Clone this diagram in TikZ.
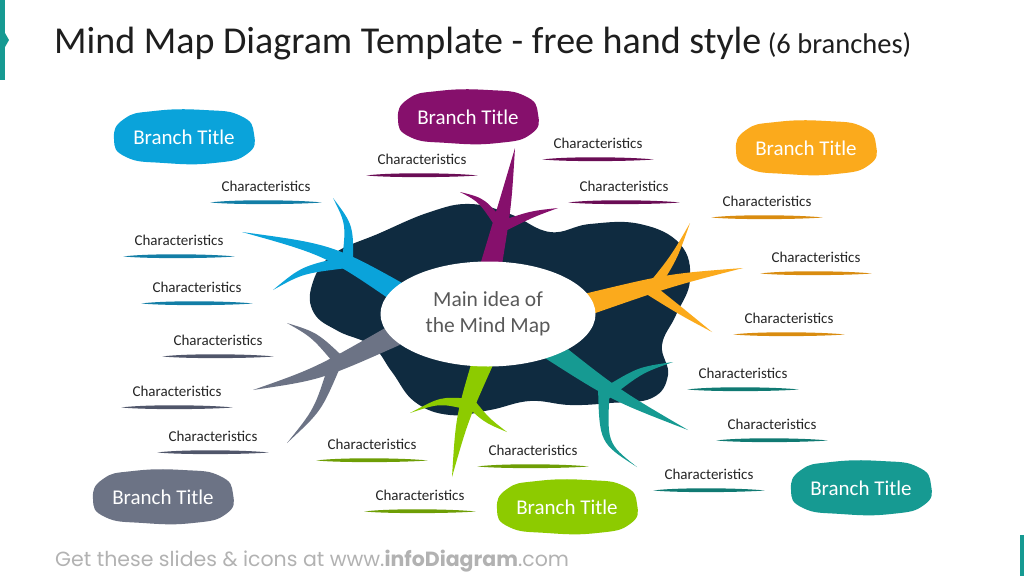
\documentclass[tikz,border=0pt]{standalone}
\usepackage{fontspec}
\setmainfont{Carlito}
\newfontfamily\footfont{Poppins}
\usetikzlibrary{calc,positioning,shapes.geometric}
\definecolor{mapNavy}{RGB}{15,43,64}
\definecolor{mapBlue}{RGB}{10,163,218}
\definecolor{mapBlueDark}{RGB}{19,126,166}
\definecolor{mapPurple}{RGB}{134,16,108}
\definecolor{mapPurpleDark}{RGB}{106,13,85}
\definecolor{mapOrange}{RGB}{251,170,28}
\definecolor{mapOrangeDark}{RGB}{217,140,16}
\definecolor{mapTeal}{RGB}{22,154,146}
\definecolor{mapTealDark}{RGB}{16,122,115}
\definecolor{mapGreen}{RGB}{141,203,0}
\definecolor{mapGreenDark}{RGB}{110,158,5}
\definecolor{mapSlate}{RGB}{108,115,133}
\definecolor{mapSlateDark}{RGB}{80,86,106}
\definecolor{inkGray}{RGB}{38,38,38}
\definecolor{headGray}{RGB}{30,30,30}
\definecolor{midGray}{RGB}{89,89,89}
\definecolor{footGray}{RGB}{178,178,178}
\definecolor{markGray}{RGB}{234,240,246}

% tapered limb: colour, base, control, tip, half width
\newcommand{\twig}[5]{\fill[#1] ($(#2)!#5!90:(#3)$) .. controls ($(#3)!0.6*#5!-90:(#2)$) .. (#4) .. controls ($(#3)!0.6*#5!90:(#2)$) .. ($(#2)!#5!-90:(#3)$) -- cycle;}
% brush stroke under a label node
\newcommand{\brushline}[2]{\fill[#2] (#1.south west) .. controls +(25,-3.2) and +(-25,-2.6) .. (#1.south east) .. controls +(-25,2) and +(25,2.4) .. (#1.south west) -- cycle;}
% title blob and its text
\newcommand{\titleblob}[3]{\fill[#3, shift={(#2)}] plot[smooth cycle, tension=0.85] coordinates {(-70,2) (-60,-18) (-30,-26) (20,-27) (57,-21) (70,-3) (63,17) (30,26) (-20,26) (-58,20)};
  \node[titletext] (#1) at (#2) {Branch Title};}

\begin{document}
\begin{tikzpicture}[x=1pt, y=-1pt,
  charlabel/.style={font=\fontsize{15}{17}\selectfont, text=inkGray, inner xsep=11pt, inner ysep=11pt},
  titletext/.style={font=\fontsize{21}{24}\selectfont, text=white}]
\useasboundingbox (0,0) rectangle (1024,576);
\fill[white] (0,0) rectangle (1024,576);

% side accents
\fill[mapTeal] (0,0) rectangle (5,80);
\fill[mapTeal] (5,33) -- (9,40) -- (5,47) -- cycle;
\fill[mapTeal] (1020,535) rectangle (1024,576);

% heading and footer
\node[anchor=base west, inner sep=0pt, text=headGray] (title) at (54,53) {\fontsize{38}{42}\selectfont Mind Map Diagram Template - free hand style\fontsize{28.5}{32}\selectfont\ (6 branches)};
\node[anchor=base west, inner sep=0pt, text=footGray] (footer) at (55,566) {\footfont\fontsize{20.5}{24}\selectfont Get these slides \& icons at www.\textbf{infoDiagram}.com};

% dark cloud behind the main idea
\fill[mapNavy] plot[smooth cycle, tension=0.7] coordinates {(312,285) (332,255) (380,233) (430,212) (470,204) (510,214) (550,232) (590,224) (640,224) (680,244) (690,280) (676,315) (662,345) (668,375) (652,398) (610,403) (570,405) (530,401) (490,410) (450,415) (415,402) (392,372) (372,346) (338,331) (314,313)};

% blue branch
\twig{mapBlue}{410,300}{330,250}{242,232}{11pt}
\twig{mapBlue}{347,268}{350,225}{333,198}{6pt}
\twig{mapBlue}{347,262}{302,270}{273,290}{6pt}
% purple branch
\twig{mapPurple}{490,270}{505,205}{515,148}{11pt}
\twig{mapPurple}{504,230}{482,200}{460,192}{5.5pt}
\twig{mapPurple}{503,226}{532,214}{558,208}{5.5pt}
% orange branch
\twig{mapOrange}{585,305}{670,280}{743,268}{11pt}
\twig{mapOrange}{648,294}{674,258}{690,223}{6pt}
\twig{mapOrange}{648,288}{682,312}{712,332}{6pt}
% teal branch
\twig{mapTeal}{545,345}{615,395}{688,430}{11pt}
\twig{mapTeal}{605,394}{640,370}{673,362}{6pt}
\twig{mapTeal}{604,386}{603,443}{637,467}{6pt}
% green branch
\twig{mapGreen}{485,356}{462,418}{452,477}{11pt}
\twig{mapGreen}{468,404}{440,400}{410,413}{5.5pt}
\twig{mapGreen}{464,396}{486,420}{507,432}{5.5pt}
% slate branch
\twig{mapSlate}{395,335}{318,374}{253,390}{11pt}
\twig{mapSlate}{344,366}{315,335}{287,323}{6pt}
\twig{mapSlate}{335,364}{318,410}{287,443}{6pt}

% main idea
\node[ellipse, fill=white, minimum width=215pt, minimum height=105pt, font=\fontsize{21.5}{26}\selectfont, text=midGray, align=center] (main) at (488,314) {Main idea of\\the Mind Map};

% branch titles
\titleblob{blueT}{184,137}{mapBlue}
\titleblob{purpleT}{468,117}{mapPurple}
\titleblob{orangeT}{806,148}{mapOrange}
\titleblob{tealT}{861,488}{mapTeal}
\titleblob{greenT}{567,507}{mapGreen}
\titleblob{slateT}{163,497}{mapSlate}

% characteristics
\foreach \nm/\cx/\cy/\cc in {b1/266/186/mapBlueDark, b2/179/240/mapBlueDark, b3/197/287/mapBlueDark,
    p1/422/159/mapPurpleDark, p2/598/143/mapPurpleDark, p3/624/186/mapPurpleDark,
    o1/767/201/mapOrangeDark, o2/816/257/mapOrangeDark, o3/789/318/mapOrangeDark,
    t1/743/373/mapTealDark, t2/772/424/mapTealDark, t3/709/474/mapTealDark,
    g1/372/444/mapGreenDark, g2/533/450/mapGreenDark, g3/420/495/mapGreenDark,
    s1/218/340/mapSlateDark, s2/177/391/mapSlateDark, s3/213/436/mapSlateDark}
{
  \node[charlabel] (\nm) at (\cx,\cy) {Characteristics};
  \brushline{\nm}{\cc}
}
\end{tikzpicture}
\end{document}
